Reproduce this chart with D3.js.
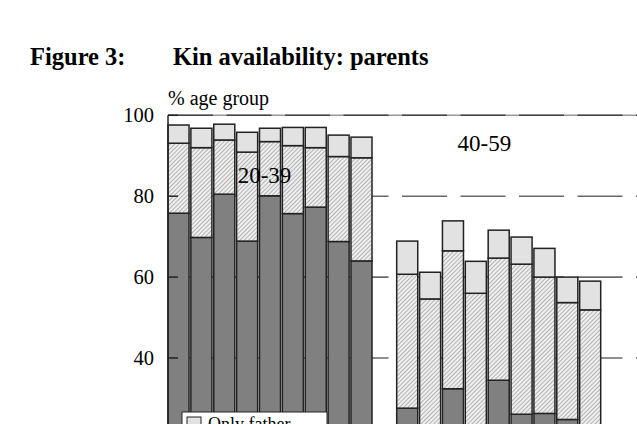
<!DOCTYPE html>
<html>
<head>
<meta charset="utf-8">
<script src="https://cdn.jsdelivr.net/npm/d3@7"></script>
<style>
  body { margin: 0; background: #fff; }
  svg { display: block; font-family: "Liberation Serif", "Times New Roman", serif; }
</style>
</head>
<body>
<div id="chart"></div>
<script>
// age groups shown, 9 bars each (second group cut off at the right)
var groups = ["20-39", "40-59"];
var series = ["Both parents", "Only mother", "Only father"];

// both parents alive (dark segment)
var both = [75.8, 69.8, 80.5, 68.9, 80.1, 75.7, 77.3, 68.8, 64.0,
            27.6, 20.0, 32.4, 18.0, 34.5, 26.1, 26.3, 24.8, 20.0];
// only mother (hatched)
var onlyMother = [17.3, 22.2, 13.4, 22.0, 13.4, 16.8, 14.7, 21.0, 25.5,
                  33.1, 34.6, 34.1, 38.0, 30.2, 37.1, 33.7, 28.9, 31.9];
// only father (light)
var onlyFather = [4.5, 4.8, 3.9, 4.9, 3.3, 4.5, 5.0, 5.3, 5.1,
                  8.2, 6.6, 7.4, 7.9, 6.9, 6.7, 7.1, 6.3, 7.1];

var yTicks = [40, 60, 80, 100];
var barsPerGroup = 9;

var width = 637, height = 424;
var left = 168;

var svg = d3.select("#chart").append("svg")
    .attr("width", width).attr("height", height);

var defs = svg.append("defs");
var pat = defs.append("pattern")
    .attr("id", "hatch")
    .attr("patternUnits", "userSpaceOnUse")
    .attr("width", 3).attr("height", 3)
    .attr("patternTransform", "rotate(45)");
pat.append("rect").attr("width", 3).attr("height", 3).attr("fill", "#efefef");
pat.append("line")
    .attr("x1", 0).attr("y1", 0).attr("x2", 0).attr("y2", 3)
    .attr("stroke", "#8a8a8a").attr("stroke-width", 1.2);

// slots: group 1 bars, one empty slot, group 2 bars
var rows = both.map(function(d, i) {
    var g = Math.floor(i / barsPerGroup);
    return {slot: i + g, both: d, mother: onlyMother[i], father: onlyFather[i]};
});
var slots = d3.range(barsPerGroup * groups.length + groups.length - 1);

var x = d3.scaleBand()
    .domain(slots)
    .range([left, 600.7])
    .paddingInner(0.08)
    .paddingOuter(0);

var y = d3.scaleLinear()
    .domain([0, 100])
    .range([519.8, 115.3]);

// title
svg.append("text")
    .attr("x", 30).attr("y", 65)
    .attr("font-size", 24.5).attr("font-weight", "bold")
    .text("Figure 3:");
svg.append("text")
    .attr("x", 173).attr("y", 65)
    .attr("font-size", 24.5).attr("font-weight", "bold")
    .text("Kin availability: parents");

svg.append("text")
    .attr("x", left).attr("y", 105)
    .attr("font-size", 20)
    .text("% age group");

// gridlines behind the bars
svg.append("line")
    .attr("x1", left).attr("x2", width)
    .attr("y1", y(100)).attr("y2", y(100))
    .attr("stroke", "#9a9a9a").attr("stroke-width", 1.6);
svg.selectAll("line.grid")
    .data(yTicks)
    .enter()
    .append("line")
    .attr("class", "grid")
    .attr("x1", left).attr("x2", width)
    .attr("y1", function(d) { return y(d); })
    .attr("y2", function(d) { return y(d); })
    .attr("stroke", function(d) { return d == 100 ? "#444" : "#6a6a6a"; })
    .attr("stroke-width", 1.6)
    .attr("stroke-dasharray", "45,13.5");

var stack = d3.stack().keys(["both", "mother", "father"]);
var layers = stack(rows);
var fills = ["#808080", "url(#hatch)", "#e2e2e2"];

svg.selectAll("g.layer")
    .data(layers)
    .enter()
    .append("g")
    .attr("class", "layer")
    .attr("fill", function(d, i) { return fills[i]; })
    .selectAll("rect")
    .data(function(d) { return d; })
    .enter()
    .append("rect")
    .attr("x", function(d) { return x(d.data.slot); })
    .attr("y", function(d) { return y(d[1]); })
    .attr("width", x.bandwidth())
    .attr("height", function(d) { return y(d[0]) - y(d[1]); })
    .attr("stroke", "#222")
    .attr("stroke-width", 1.5);

// axis line and inward ticks
svg.append("line")
    .attr("x1", left).attr("x2", left)
    .attr("y1", y(100)).attr("y2", height)
    .attr("stroke", "#222").attr("stroke-width", 1.5);
svg.selectAll("line.tick")
    .data(yTicks)
    .enter()
    .append("line")
    .attr("class", "tick")
    .attr("x1", left).attr("x2", left + 10)
    .attr("y1", function(d) { return y(d); })
    .attr("y2", function(d) { return y(d); })
    .attr("stroke", "#222").attr("stroke-width", 1.5);
svg.selectAll("text.ylab")
    .data(yTicks)
    .enter()
    .append("text")
    .attr("class", "ylab")
    .attr("x", 154)
    .attr("y", function(d) { return y(d); })
    .attr("dy", "0.35em")
    .attr("text-anchor", "end")
    .attr("font-size", 20.5)
    .text(function(d) { return d; });

// group labels
var labelPos = [{slot: 4, dx: 5, v: 83.3}, {slot: 13, dx: 19, v: 91.2}];
svg.selectAll("text.glab")
    .data(groups)
    .enter()
    .append("text")
    .attr("class", "glab")
    .attr("x", function(d, i) { return x(labelPos[i].slot) + labelPos[i].dx; })
    .attr("y", function(d, i) { return y(labelPos[i].v); })
    .attr("text-anchor", "middle")
    .attr("font-size", 23)
    .text(function(d) { return d; });

// legend (mostly below the visible area)
var legend = svg.append("g").attr("transform", "translate(182,412)");
legend.append("rect")
    .attr("width", 145).attr("height", 70)
    .attr("fill", "#fff").attr("stroke", "#222").attr("stroke-width", 1);
var legendItems = series.slice().reverse();
var legendFills = fills.slice().reverse();
legend.selectAll("rect.key")
    .data(legendItems)
    .enter()
    .append("rect")
    .attr("class", "key")
    .attr("x", 5).attr("y", function(d, i) { return 5 + i * 20; })
    .attr("width", 14).attr("height", 12)
    .attr("fill", function(d, i) { return legendFills[i]; })
    .attr("stroke", "#222");
legend.selectAll("text.key")
    .data(legendItems)
    .enter()
    .append("text")
    .attr("class", "key")
    .attr("x", 26).attr("y", function(d, i) { return 18 + i * 20; })
    .attr("font-size", 18)
    .text(function(d) { return d; });
</script>
</body>
</html>
